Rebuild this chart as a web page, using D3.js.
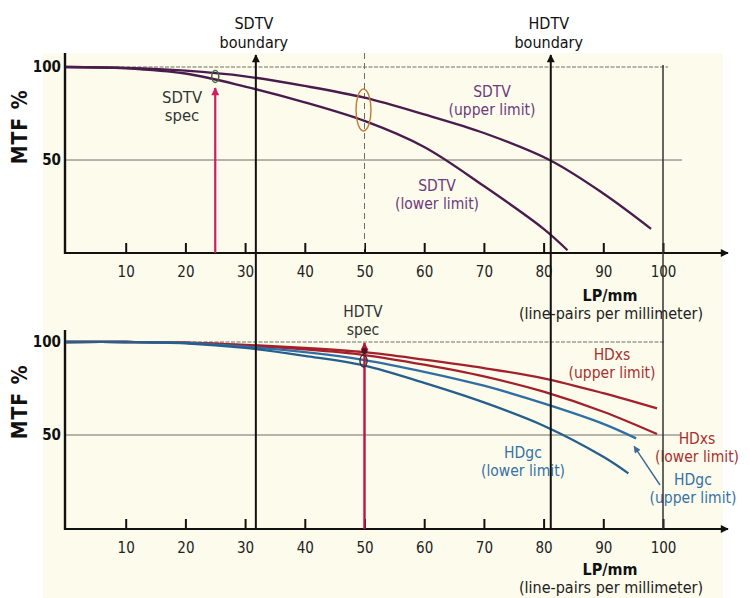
<!DOCTYPE html>
<html>
<head>
<meta charset="utf-8">
<script src="https://cdn.jsdelivr.net/npm/d3@7"></script>
<style>
  html, body { margin: 0; padding: 0; background: #ffffff; }
  svg { display: block; }
  text { font-family: 'DejaVu Sans Condensed', 'DejaVu Sans', sans-serif; font-stretch: condensed; }
</style>
</head>
<body>
<svg id="chart" width="750" height="598"></svg>
<script>
// ---- data ----------------------------------------------------------------
// Resolution axis (line pairs per mm) and MTF (%) readings for each curve.
const xTicks = [10, 20, 30, 40, 50, 60, 70, 80, 90, 100];
const yTicks = [50, 100];

const sdtvUpperLp  = [0, 10, 20, 30, 40, 50, 60, 70, 81, 90, 98];
const sdtvUpperMtf = [100, 99.5, 98, 95, 89.8, 83.5, 74.5, 64.5, 50, 32, 13];
const sdtvLowerLp  = [0, 10, 20, 30, 40, 50, 60, 70, 80, 84];
const sdtvLowerMtf = [100, 99.3, 96.5, 89.5, 81, 71, 57, 36, 13, 1.5];

const hdxsUpperLp  = [0, 10, 20, 30, 40, 50, 60, 70, 80, 90, 99];
const hdxsUpperMtf = [100, 100, 99.7, 98.5, 96.8, 94.5, 90.5, 86, 80.5, 72.5, 64.3];
const hdxsLowerLp  = [0, 10, 20, 30, 40, 50, 60, 70, 80, 90, 99];
const hdxsLowerMtf = [100, 100, 99.6, 98, 96, 93, 87.8, 81.5, 73.3, 62.5, 50.5];
const hdgcUpperLp  = [0, 10, 20, 30, 40, 50, 60, 70, 80, 90, 95.5];
const hdgcUpperMtf = [100, 100, 99.5, 97.5, 94.5, 90.3, 84, 76.5, 67, 56, 48.2];
const hdgcLowerLp  = [0, 10, 20, 30, 40, 50, 60, 70, 80, 90, 94.2];
const hdgcLowerMtf = [100, 100, 99.3, 96.8, 92.5, 87.3, 78, 67.5, 55, 38.3, 29.4];

const sdtvSpecLp = 25;
const hdtvSpecLp = 50;
const sdtvBoundaryLp = 31.8;
const hdtvBoundaryLp = 81.2;

// ---- setup ---------------------------------------------------------------
const svg = d3.select('#chart');
const x = d3.scaleLinear([0, 100], [66, 663]);
const yTop = d3.scaleLinear([0, 100], [253, 67]);
const yBot = d3.scaleLinear([0, 100], [528, 342]);

const C = {
  purple: '#4a1c4e', purpleText: '#6b3b7c',
  red: '#a3202c', redText: '#a8302f',
  blue: '#245f8e', blue2: '#2f6fa3', blueText: '#3572a6',
  spec: '#d11d63', specRed: '#b8163f', grid: '#6e6e66'
};

// paper background
svg.append('rect').attr('x', 43).attr('y', 53).attr('width', 680).attr('height', 545).attr('fill', '#fcfbec');

const defs = svg.append('defs');
function marker(id, color, w, h) {
  defs.append('marker').attr('id', id).attr('viewBox', '0 0 10 10')
    .attr('refX', 9).attr('refY', 5).attr('markerUnits', 'userSpaceOnUse')
    .attr('markerWidth', w).attr('markerHeight', h).attr('orient', 'auto')
    .append('path').attr('d', 'M0,0 L10,5 L0,10 z').attr('fill', color);
}
marker('arBlack', '#111', 10, 8);
marker('arSpec', C.spec, 10, 8);
marker('arRed', C.specRed, 10, 8);
marker('arBlue', '#3b6a96', 10, 7);

const line = d3.line().x(d => x(d[0])).curve(d3.curveCatmullRom.alpha(0.5));

function panel(y, axisY, topY, grid100End, grid50End, xLabelY) {
  const g = svg.append('g');
  // gridlines
  g.append('line').attr('x1', x(0)).attr('x2', grid100End)
    .attr('y1', y(100)).attr('y2', y(100))
    .attr('stroke', C.grid).attr('stroke-width', 1).attr('stroke-dasharray', '4,1.5');
  g.append('line').attr('x1', x(0)).attr('x2', grid50End)
    .attr('y1', y(50)).attr('y2', y(50))
    .attr('stroke', C.grid).attr('stroke-width', 1);

  // x axis with inward ticks
  const ax = d3.axisBottom(x).tickValues(xTicks).tickSizeInner(-10).tickSizeOuter(0).tickPadding(13);
  const axG = g.append('g').attr('transform', `translate(0,${axisY})`).call(ax);
  axG.select('.domain').remove();
  axG.selectAll('.tick line').attr('stroke', '#111').attr('stroke-width', 2);
  axG.selectAll('.tick text').attr('font-size', 15).attr('fill', '#222');
  g.append('line').attr('x1', 64).attr('x2', 728).attr('y1', axisY).attr('y2', axisY)
    .attr('stroke', '#111').attr('stroke-width', 2.2).attr('marker-end', 'url(#arBlack)');

  // y axis
  const ay = d3.axisLeft(y).tickValues(yTicks).tickSize(0).tickPadding(4);
  const ayG = g.append('g').attr('transform', `translate(65,0)`).call(ay);
  ayG.select('.domain').remove();
  ayG.selectAll('.tick text').attr('font-size', 15).attr('fill', '#111').attr('font-weight', 'bold');
  g.append('line').attr('x1', 65).attr('x2', 65).attr('y1', topY).attr('y2', axisY + 1)
    .attr('stroke', '#111').attr('stroke-width', 2.4);

  g.append('text').attr('transform', `translate(27,${(y(50) + y(90)) / 2 + 4}) rotate(-90)`)
    .attr('text-anchor', 'middle').attr('font-size', 21).attr('font-weight', 'bold')
    .attr('letter-spacing', 1).attr('fill', '#111')
    .text('MTF %');

  g.append('text').attr('x', 610).attr('y', xLabelY).attr('text-anchor', 'middle')
    .attr('font-size', 16).attr('font-weight', 'bold').attr('fill', '#111').text('LP/mm');
  g.append('text').attr('x', 611).attr('y', xLabelY + 18).attr('text-anchor', 'middle')
    .attr('font-size', 16).attr('fill', '#222').text('(line-pairs per millimeter)');
  return g;
}

// ---- top panel: SDTV ------------------------------------------------------
const gT = panel(yTop, 253, 53, 668, 682, 301);
// dashed reference at 50 lp/mm
gT.append('line').attr('x1', x(50)).attr('x2', x(50)).attr('y1', 53).attr('y2', 253)
  .attr('stroke', C.grid).attr('stroke-width', 1).attr('stroke-dasharray', '6,4');

function curve(g, y, xs, ys, color, w) {
  g.append('path').datum(xs.map((v, i) => [v, ys[i]]))
    .attr('d', line.y(d => y(d[1]))).attr('fill', 'none')
    .attr('stroke', color).attr('stroke-width', w || 2.3);
}
curve(gT, yTop, sdtvUpperLp, sdtvUpperMtf, C.purple);
curve(gT, yTop, sdtvLowerLp, sdtvLowerMtf, C.purple);

// SDTV spec arrow and marker
gT.append('line').attr('x1', x(sdtvSpecLp)).attr('x2', x(sdtvSpecLp))
  .attr('y1', yTop(0)).attr('y2', 88).attr('stroke', C.spec).attr('stroke-width', 2.2)
  .attr('marker-end', 'url(#arSpec)');
gT.append('ellipse').attr('cx', x(sdtvSpecLp)).attr('cy', 76.5).attr('rx', 3.5).attr('ry', 6)
  .attr('fill', 'none').attr('stroke', '#3f6a3a').attr('stroke-width', 1.5);
// 50 lp/mm spread
gT.append('ellipse').attr('cx', x(50) - 1).attr('cy', 110).attr('rx', 7.5).attr('ry', 21)
  .attr('fill', 'none').attr('stroke', '#c27a35').attr('stroke-width', 1.4);

function label2(g, cx, y1, t1, t2, color, size) {
  const s = size || 15.5;
  g.append('text').attr('x', cx).attr('y', y1).attr('text-anchor', 'middle')
    .attr('font-size', s).attr('fill', color).text(t1);
  g.append('text').attr('x', cx).attr('y', y1 + 18).attr('text-anchor', 'middle')
    .attr('font-size', s).attr('fill', color).text(t2);
}
label2(gT, 492, 97, 'SDTV', '(upper limit)', C.purpleText);
label2(gT, 437, 191, 'SDTV', '(lower limit)', C.purpleText);
label2(gT, 182, 103, 'SDTV', 'spec', '#333', 16.5);

// ---- bottom panel: HDTV ----------------------------------------------------
const gB = panel(yBot, 529, 330, 665, 680, 575);
curve(gB, yBot, hdxsUpperLp, hdxsUpperMtf, C.red);
curve(gB, yBot, hdxsLowerLp, hdxsLowerMtf, C.red);
curve(gB, yBot, hdgcUpperLp, hdgcUpperMtf, C.blue2);
curve(gB, yBot, hdgcLowerLp, hdgcLowerMtf, C.blue);

gB.append('line').attr('x1', x(hdtvSpecLp)).attr('x2', x(hdtvSpecLp))
  .attr('y1', 529).attr('y2', 343).attr('stroke', C.specRed).attr('stroke-width', 2.4)
  .attr('marker-end', 'url(#arRed)');
gB.append('ellipse').attr('cx', x(hdtvSpecLp) - 1).attr('cy', 361).attr('rx', 3.5).attr('ry', 6)
  .attr('fill', 'none').attr('stroke', '#333').attr('stroke-width', 1.4);
gB.append('circle').attr('cx', x(hdtvSpecLp)).attr('cy', 351).attr('r', 3).attr('fill', '#5a1020');

label2(gB, 363, 317, 'HDTV', 'spec', '#333', 15.5);
label2(gB, 612, 360, 'HDxs', '(upper limit)', C.redText);
label2(gB, 697, 444, 'HDxs', '(lower limit)', C.redText);
label2(gB, 523, 458, 'HDgc', '(lower limit)', C.blueText);
label2(gB, 693, 485, 'HDgc', '(upper limit)', C.blueText);
// pointer to the end of the HDgc upper curve
gB.append('line').attr('x1', 660).attr('y1', 485)
  .attr('x2', x(hdgcUpperLp[hdgcUpperLp.length - 1]) - 2).attr('y2', yBot(hdgcUpperMtf[hdgcUpperMtf.length - 1]) + 8)
  .attr('stroke', '#3b6a96').attr('stroke-width', 1.4).attr('marker-end', 'url(#arBlue)');

// ---- boundaries spanning both panels ---------------------------------------
const gV = svg.append('g');
gV.append('line').attr('x1', x(100)).attr('x2', x(100)).attr('y1', yTop(100) - 2).attr('y2', 529)
  .attr('stroke', '#333').attr('stroke-width', 1.5);
[[sdtvBoundaryLp, 'SDTV'], [hdtvBoundaryLp, 'HDTV']].forEach(([lp, name]) => {
  gV.append('line').attr('x1', x(lp)).attr('x2', x(lp)).attr('y1', 529).attr('y2', 55)
    .attr('stroke', '#111').attr('stroke-width', 2).attr('marker-end', 'url(#arBlack)');
  gV.append('text').attr('x', x(lp) - 2).attr('y', 29).attr('text-anchor', 'middle')
    .attr('font-size', 16).attr('fill', '#111').text(name);
  gV.append('text').attr('x', x(lp) - 2).attr('y', 48).attr('text-anchor', 'middle')
    .attr('font-size', 16).attr('fill', '#111').text('boundary');
});
</script>
</body>
</html>
